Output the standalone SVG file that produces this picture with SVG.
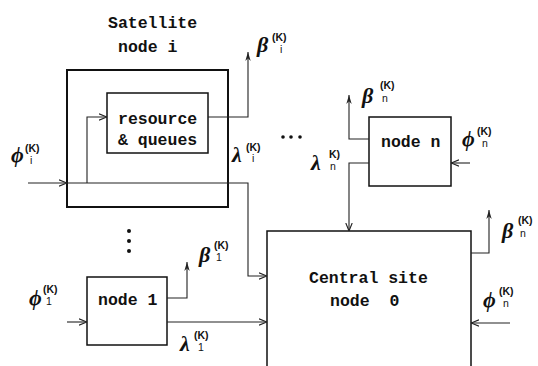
<svg xmlns="http://www.w3.org/2000/svg" width="538" height="366" viewBox="0 0 538 366">
<style>
.box{fill:none;stroke:#111;stroke-width:1.5}
.outer{fill:none;stroke:#111;stroke-width:2}
.ln{fill:none;stroke:#222;stroke-width:1.1}
.t{font-family:"Liberation Mono",monospace;font-weight:bold;font-size:16.5px;fill:#111}
.g{font-family:"Liberation Serif",serif;font-style:italic;font-weight:bold;font-size:22px;fill:#111}
.sp{font-family:"Liberation Sans",sans-serif;font-weight:bold;font-size:10.5px;fill:#111}
.sb{font-family:"Liberation Sans",sans-serif;font-size:10.5px;fill:#111}
</style>
<defs>
<marker id="a" viewBox="0 0 10 10" refX="10" refY="5" markerWidth="8" markerHeight="8" markerUnits="userSpaceOnUse" orient="auto">
<path d="M0,1 L10,5 L0,9" fill="none" stroke="#222" stroke-width="1.4"/>
</marker>
<marker id="u" viewBox="0 0 10 10" refX="10" refY="5" markerWidth="9" markerHeight="9" markerUnits="userSpaceOnUse" orient="auto">
<path d="M0,2 L10,5 L0,8 L3,5 Z" fill="#222"/>
</marker>
</defs>

<g id="satellite">
<rect class="outer" x="67" y="70" width="161" height="137"/>
<text class="t" x="108" y="28">Satellite</text>
<text class="t" x="118" y="52">node i</text>
</g>
<g id="resource">
<rect class="box" x="107" y="93" width="101" height="60"/>
<text class="t" x="118" y="124">resource</text>
<text class="t" x="118" y="145">&amp; queues</text>
</g>
<g id="node-n">
<rect class="box" x="369" y="117" width="82" height="69"/>
<text class="t" x="381" y="147">node n</text>
</g>
<g id="node-1">
<rect class="box" x="87" y="277" width="80" height="68"/>
<text class="t" x="98" y="305">node 1</text>
</g>
<g id="central">
<rect class="box" x="267" y="231" width="204" height="150"/>
<text class="t" x="309" y="283">Central site</text>
<text class="t" x="330" y="306" xml:space="preserve">node  0</text>
</g>

<g id="connectors">
<path class="ln" d="M28,183 H67" marker-end="url(#a)"/>
<path class="ln" d="M67,183 H248 V276 H267" marker-end="url(#a)"/>
<path class="ln" d="M87,183 V117 H107" marker-end="url(#a)"/>
<path class="ln" d="M208,117 H248 V52" marker-end="url(#u)"/>
<path class="ln" d="M369,139 H349 V95" marker-end="url(#u)"/>
<path class="ln" d="M369,163 H349 V231" marker-end="url(#a)"/>
<path class="ln" d="M470,163 H451" marker-end="url(#a)"/>
<path class="ln" d="M471,253 H489 V210" marker-end="url(#u)"/>
<path class="ln" d="M510,323 H471" marker-end="url(#a)"/>
<path class="ln" d="M167,298 H187 V262" marker-end="url(#u)"/>
<path class="ln" d="M167,322 H267" marker-end="url(#a)"/>
<path class="ln" d="M67,322 H87" marker-end="url(#a)"/>
</g>

<g id="dots" fill="#111">
<circle cx="129" cy="231" r="2"/>
<circle cx="129" cy="241" r="2"/>
<circle cx="129" cy="251" r="2"/>
<circle cx="283" cy="137" r="1.8"/>
<circle cx="291" cy="137" r="1.8"/>
<circle cx="300" cy="137" r="1.8"/>
</g>

<g id="labels">
<text class="g" x="11" y="162">ϕ</text><text class="sp" x="25" y="152">(K)</text><text class="sb" x="30" y="164">i</text>
<text class="g" x="257" y="52">β</text><text class="sp" x="272" y="41">(K)</text><text class="sb" x="280" y="53">i</text>
<text class="g" x="232" y="162">λ</text><text class="sp" x="246" y="151">(K)</text><text class="sb" x="252" y="162">i</text>
<text class="g" x="362" y="103">β</text><text class="sp" x="380" y="89">(K)</text><text class="sb" x="382" y="102">n</text>
<text class="g" x="311" y="170">λ</text><text class="sp" x="329" y="158">K)</text><text class="sb" x="330" y="170">n</text>
<text class="g" x="462" y="146">ϕ</text><text class="sp" x="477" y="135">(K)</text><text class="sb" x="482" y="147">n</text>
<text class="g" x="502" y="238">β</text><text class="sp" x="518" y="224">(K)</text><text class="sb" x="520" y="237">n</text>
<text class="g" x="483" y="307">ϕ</text><text class="sp" x="499" y="295">(K)</text><text class="sb" x="503" y="307">n</text>
<text class="g" x="199" y="262">β</text><text class="sp" x="214" y="249">(K)</text><text class="sb" x="216" y="261">1</text>
<text class="g" x="29" y="305">ϕ</text><text class="sp" x="43" y="293">(K)</text><text class="sb" x="46" y="305">1</text>
<text class="g" x="180" y="351">λ</text><text class="sp" x="194" y="339">(K)</text><text class="sb" x="198" y="351">1</text>
</g>
</svg>
